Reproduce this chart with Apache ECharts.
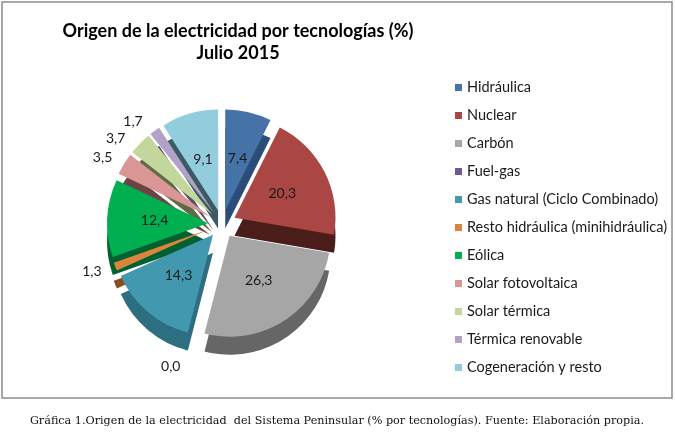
<!DOCTYPE html>
<html><head><meta charset="utf-8">
<script src="https://cdn.jsdelivr.net/npm/echarts@6/dist/echarts.min.js"></script>
<style>html,body{margin:0;padding:0;background:#fff}#c{width:675px;height:436px}</style>
</head><body><div id="c"></div>
<script>
const categories = ['Hidráulica','Nuclear','Carbón','Fuel-gas','Gas natural (Ciclo Combinado)','Resto hidráulica (minihidráulica)','Eólica','Solar fotovoltaica','Solar térmica','Térmica renovable','Cogeneración y resto'];
const values = [7.4, 20.3, 26.3, 0.0, 14.3, 1.3, 12.4, 3.5, 3.7, 1.7, 9.1];
const topColors = ['#4572a7','#aa4643','#a6a6a6','#71588f','#4198af','#db843d','#00b050','#d99694','#c3d69b','#b3a2c7','#93cddd'];
const sideColors = ['#2c4d7a','#4a1c1a','#666666','#4a3a60','#2d6e80','#8a4d1d','#006030','#6b4545','#5e6b47','#5a4c6b','#3b5a64'];
const titleLines = ['Origen de la electricidad por tecnologías (%)', 'Julio 2015'];
const caption = 'Gráfica 1.Origen de la electricidad  del Sistema Peninsular (% por tecnologías). Fuente: Elaboración propia.';

const fmt = v => v.toFixed(1).replace('.', ',');
const CENTER = [222, 224], DEPTH = 18, R = 101, OFFSET = 14;
const FONT = 'Lato, "Open Sans", sans-serif';

function pieData(colors, withLabels) {
  return categories.map((name, i) => {
    const item = {
      name: name,
      value: values[i],
      selected: true,
      itemStyle: { color: colors[i] },
      label: withLabels ? { position: values[i] < 5 ? 'outside' : 'inside' } : { show: false }
    };
    if (withLabels && values[i] === 0) item.labelLine = { show: false, length: 32, length2: 0 };
    return item;
  });
}

const chart = echarts.init(document.getElementById('c'));
chart.setOption({
  animation: false,
  backgroundColor: '#fff',
  graphic: [
    { type: 'rect', shape: { x: 2, y: 2, width: 670, height: 396 }, style: { fill: 'none', stroke: '#8c8c8c', lineWidth: 1.5 }, silent: true },
    { type: 'text', x: 238, y: 31, style: { text: titleLines[0], font: 'bold 18px Lato, sans-serif', fill: '#000', textAlign: 'center', textVerticalAlign: 'middle' } },
    { type: 'text', x: 238, y: 53, style: { text: titleLines[1], font: 'bold 18px Lato, sans-serif', fill: '#000', textAlign: 'center', textVerticalAlign: 'middle' } },
    { type: 'text', x: 337, y: 421, style: { text: caption, font: '11.2px "DejaVu Serif", serif', fill: '#111', textAlign: 'center', textVerticalAlign: 'middle' } }
  ],
  legend: {
    orient: 'vertical', left: 455, top: 80, padding: 0,
    icon: 'rect', itemWidth: 7, itemHeight: 7, itemGap: 13,
    data: categories,
    selectedMode: false,
    textStyle: { fontFamily: FONT, fontSize: 14.5, color: '#1a1a1a', lineHeight: 15 }
  },
  series: [
    {
      name: 'top', type: 'pie', z: 3,
      center: CENTER, radius: [0, R], startAngle: 90, clockwise: true,
      selectedMode: 'multiple', selectedOffset: OFFSET,
      avoidLabelOverlap: true,
      labelLayout: { hideOverlap: false },
      emphasis: { disabled: true },
      label: { show: true, formatter: p => fmt(p.value), fontFamily: FONT, fontSize: 14, color: '#1a1a1a' },
      labelLine: { show: false, length: 12, length2: 0 },
      data: pieData(topColors, true)
    },
    {
      name: 'side', type: 'pie', z: 2, silent: true, legendHoverLink: false,
      center: [CENTER[0], CENTER[1] + DEPTH], radius: [0, R], startAngle: 90, clockwise: true,
      selectedMode: 'multiple', selectedOffset: OFFSET,
      emphasis: { disabled: true },
      label: { show: false }, labelLine: { show: false },
      data: pieData(sideColors, false)
    }
  ]
});
</script></body></html>
